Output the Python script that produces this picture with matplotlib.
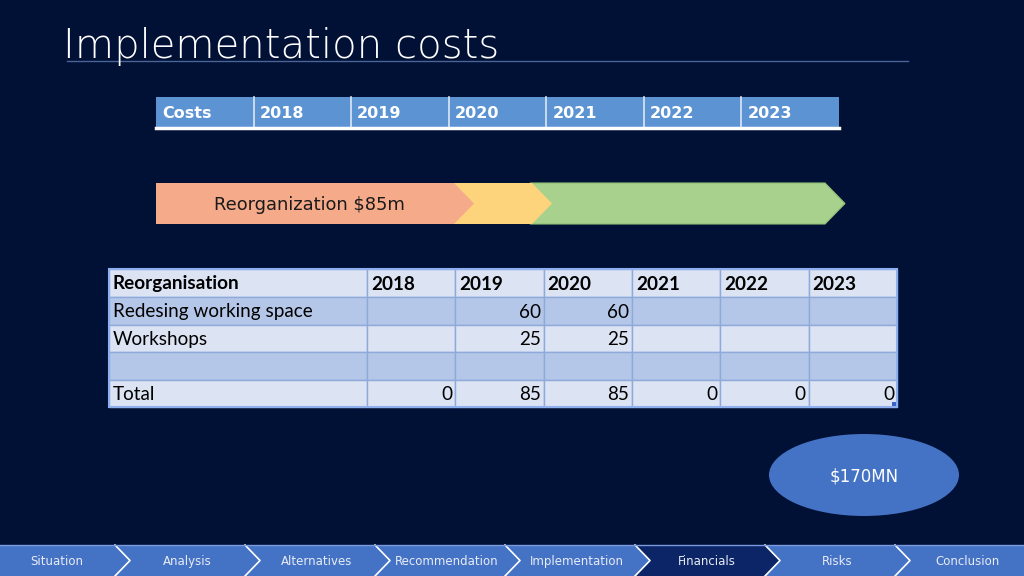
import matplotlib
matplotlib.use("Agg")
import matplotlib.pyplot as plt
from matplotlib.patches import Rectangle, Polygon, Ellipse

# ---------------- data ----------------
title = "Implementation costs"
years = ["2018", "2019", "2020", "2021", "2022", "2023"]
top_header = "Costs"
phase_label = "Reorganization $85m"
table_header = "Reorganisation"
row_labels = ["Redesing working space", "Workshops", "", "Total"]
redesign = [None, 60, 60, None, None, None]
workshops = [None, 25, 25, None, None, None]
blank_row = [None, None, None, None, None, None]
totals = [0, 85, 85, 0, 0, 0]
total_label = "$170MN"
nav_items = ["Situation", "Analysis", "Alternatives", "Recommendation",
             "Implementation", "Financials", "Risks", "Conclusion"]
nav_active = "Financials"

# ---------------- figure ----------------
BG = "#011035"
fig = plt.figure(figsize=(10.24, 5.76), dpi=100, facecolor=BG)
ax = fig.add_axes([0, 0, 1, 1])
ax.set_xlim(0, 1024)
ax.set_ylim(576, 0)
ax.axis("off")
ax.set_facecolor(BG)

# title
ax.text(63, 58, title, fontsize=29, color="white", family="DejaVu Sans",
        fontweight="light", ha="left", va="baseline")
ax.plot([67, 908], [61, 61], color="#4a6496", lw=1)

# top header table
tx0, tx1, ty0, ty1 = 156, 839, 97, 128
ncol = len(years) + 1
cw = (tx1 - tx0) / ncol
ax.add_patch(Rectangle((tx0, ty0), tx1 - tx0, ty1 - ty0, facecolor="#5b93d3",
                       edgecolor="none"))
for i, lab in enumerate([top_header] + years):
    x = tx0 + i * cw
    if i > 0:
        ax.plot([x, x], [ty0, ty1], color="#dce8f8", lw=1.2)
    ax.text(x + 6, (ty0 + ty1) / 2 + 1, lab, color="white", fontsize=11.5,
            fontweight="bold", ha="left", va="center", family="DejaVu Sans")
ax.plot([tx0, tx1], [ty1, ty1], color="white", lw=2.5)

# phase arrow bar
by0, by1 = 183, 224
bm = (by0 + by1) / 2
green = Polygon([(530, by0), (825, by0), (845, bm), (825, by1), (530, by1), (550, bm)],
                closed=True, facecolor="#a9d18e", edgecolor="#8fbf72", lw=0.8)
yellow = Polygon([(452, by0), (532, by0), (552, bm), (532, by1), (452, by1), (472, bm)],
                 closed=True, facecolor="#fdd47c", edgecolor="none")
orange = Polygon([(156, by0), (454, by0), (474, bm), (454, by1), (156, by1)],
                 closed=True, facecolor="#f5aa8a", edgecolor="none")
for p in (green, yellow, orange):
    ax.add_patch(p)
ax.text(214, bm + 1, phase_label, fontsize=12.9, color="#1a1a1a",
        ha="left", va="center", family="DejaVu Sans")

# main table
mx0, mx1 = 109, 897
first_w = 258
col_w = (mx1 - mx0 - first_w) / len(years)
row_edges = [269, 297, 325, 352, 380, 407]
row_fill = ["#dce3f3", "#b5c7e8", "#dce3f3", "#b5c7e8", "#dce3f3"]
col_x = [mx0, mx0 + first_w] + [mx0 + first_w + (k + 1) * col_w for k in range(len(years))]
rows_values = [None, redesign, workshops, blank_row, totals]
labels = [table_header] + row_labels
FONT_T = "Lato"
FS_T = 13.6
for r in range(5):
    y0, y1 = row_edges[r], row_edges[r + 1]
    yc = (y0 + y1) / 2 + 1
    for c in range(len(col_x) - 1):
        ax.add_patch(Rectangle((col_x[c], y0), col_x[c + 1] - col_x[c], y1 - y0,
                               facecolor=row_fill[r], edgecolor="#8eaadb", lw=1))
    bold = "bold" if r == 0 else "normal"
    ax.text(mx0 + 4, yc, labels[r], fontsize=FS_T, fontweight=bold, color="black",
            ha="left", va="center", family=FONT_T)
    if r == 0:
        for k, yr in enumerate(years):
            ax.text(col_x[k + 1] + 4, yc, yr, fontsize=FS_T, fontweight="bold",
                    color="black", ha="left", va="center", family=FONT_T)
    else:
        for k, v in enumerate(rows_values[r]):
            if v is not None:
                ax.text(col_x[k + 2] - 3, yc, str(v), fontsize=FS_T, color="black",
                        ha="right", va="center", family=FONT_T)
ax.add_patch(Rectangle((mx0, row_edges[0]), mx1 - mx0, row_edges[-1] - row_edges[0],
                       facecolor="none", edgecolor="#8fb0ee", lw=1.5))
ax.add_patch(Rectangle((mx1 - 5, row_edges[-1] - 5), 4, 4, facecolor="#3a63c8",
                       edgecolor="none"))

# ellipse
ax.add_patch(Ellipse((864, 475), 190, 82, facecolor="#4472c4", edgecolor="none"))
ax.text(864, 476, total_label, fontsize=12, color="white", ha="center",
        va="center", family="DejaVu Sans")

# navigation bar
ny0, ny1 = 545, 576
nm = (ny0 + ny1) / 2
seg = 130
start = 115 - seg
ax.add_patch(Rectangle((0, ny0), 1024, ny1 - ny0, facecolor="#4472c4", edgecolor="none"))
for i, item in enumerate(nav_items):
    left = start + i * seg
    right = left + seg
    if item == nav_active:
        ax.add_patch(Polygon([(left, ny0), (right, ny0), (right + 15, nm), (right, ny1),
                              (left, ny1), (left + 15, nm)], closed=True,
                             facecolor="#0c2566", edgecolor="none"))
    cx = (max(left, 0) + min(right, 1024)) / 2 + 7
    if i == 0:
        cx = 57
    if i == len(nav_items) - 1:
        cx = 968
    ax.text(cx, nm + 1, item, fontsize=8.5, color="#e8ecf6", ha="center",
            va="center", family="DejaVu Sans")
for i in range(len(nav_items) - 1):
    x = 115 + i * seg
    ax.plot([x, x + 15, x], [ny0, nm, ny1], color="white", lw=1.2)
ax.plot([0, 1024], [ny0, ny0], color="#7b9be0", lw=1)

fig.savefig("out.png", dpi=100, facecolor=BG)
